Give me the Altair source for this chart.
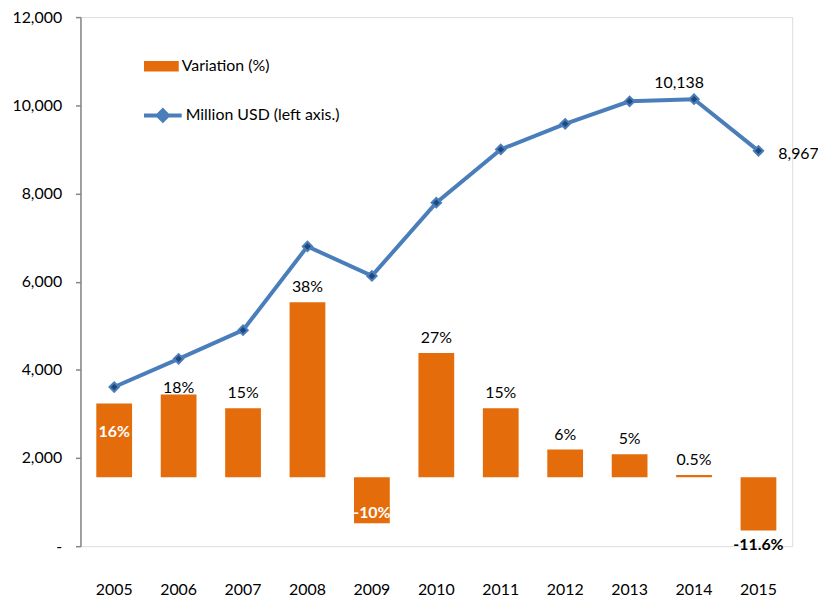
import altair as alt
import pandas as pd

years = ["2005", "2006", "2007", "2008", "2009", "2010", "2011", "2012", "2013", "2014", "2015"]
usd = [3610, 4250, 4900, 6800, 6130, 7790, 9000, 9580, 10090, 10138, 8967]
pct = [16, 18, 15, 38, -10, 27, 15, 6, 5, 0.5, -11.6]
pct_labels = ["16%", "18%", "15%", "38%", "-10%", "27%", "15%", "6%", "5%", "0.5%", "-11.6%"]
usd_labels = ["", "", "", "", "", "", "", "", "", "10,138", "8,967"]

ORANGE = "#E46C0A"
BLUE = "#4A7EBB"
DARK = "#1F497D"
FONT = "Lato"
FS = 16

df = pd.DataFrame({
    "year": years, "usd": usd, "pct": pct,
    "pct_label": pct_labels, "usd_label": usd_labels,
})
df["bar_series"] = "Variation (%)"
df["line_series"] = "Million USD (left axis.)"

base = alt.Chart(df)

x = alt.X("year:N", title=None,
          scale=alt.Scale(paddingInner=0.445, paddingOuter=0.246),
          axis=alt.Axis(domain=False, ticks=False, tickSize=0, labelPadding=36,
                        labelFontSize=FS, labelAngle=0, labelColor="#000000", labelFont=FONT))

pscale = alt.Scale(domain=[-15, 100], nice=False)
uscale = alt.Scale(domain=[0, 12000], nice=False)

bars = base.mark_bar(color=ORANGE).encode(
    x=x,
    y=alt.Y("pct:Q", scale=pscale, axis=None),
    y2=alt.Y2(datum=0),
    color=alt.Color("bar_series:N", scale=alt.Scale(range=[ORANGE]),
                    legend=alt.Legend(title=None, orient="none", legendX=64, legendY=32,
                                      symbolType="M-1,-0.3H1V0.3H-1Z", symbolSize=1225,
                                      symbolStrokeWidth=0, labelFontSize=FS, labelOffset=3,
                                      padding=0, labelFont=FONT, labelColor="#000000")),
)

def pct_text(sel, dy, color="#000000", weight="normal"):
    return base.transform_filter(
        alt.FieldOneOfPredicate(field="year", oneOf=sel)
    ).mark_text(dy=dy, fontSize=FS, font=FONT, color=color, fontWeight=weight,
                baseline="middle").encode(
        x=x,
        y=alt.Y("pct:Q", scale=pscale, axis=None),
        text="pct_label:N",
    )

t_above = pct_text(["2007", "2008", "2010", "2011", "2012", "2013", "2014"], -15)
t_2006 = pct_text(["2006"], -6)
t_2005 = pct_text(["2005"], 29, "#FFFFFF", "bold")
t_2009 = pct_text(["2009"], -10, "#FFFFFF", "bold")
t_2015 = pct_text(["2015"], 15, "#000000", "bold")

yaxis = alt.Axis(values=[0, 2000, 4000, 6000, 8000, 10000, 12000],
                 labelExpr="datum.value == 0 ? '-\u00a0\u00a0' : format(datum.value, ',')",
                 grid=False, domainColor="#868686", domainWidth=1.5,
                 tickColor="#868686", tickWidth=1.5, tickSize=5, labelPadding=14,
                 labelFontSize=FS, labelFont=FONT, labelColor="#000000", title=None)

line = base.mark_line(strokeWidth=4).encode(
    x=x,
    y=alt.Y("usd:Q", scale=uscale, axis=yaxis),
    stroke=alt.Stroke("line_series:N", scale=alt.Scale(range=[BLUE]),
                      legend=alt.Legend(title=None, orient="none", legendX=62, legendY=78,
                                        symbolType="M-1,0H1M0,-0.27L0.27,0L0,0.27L-0.27,0Z",
                                        symbolSize=1444, symbolStrokeWidth=4,
                                        symbolFillColor=DARK, labelFontSize=FS, labelOffset=2,
                                        padding=0, labelFont=FONT, labelColor="#000000")),
)

points = base.mark_point(shape="diamond", filled=True, fill=DARK, stroke=BLUE,
                         strokeWidth=2, size=90, opacity=1).encode(
    x=x,
    y=alt.Y("usd:Q", scale=uscale, axis=None),
)

u14 = base.transform_filter(alt.datum.year == "2014").mark_text(
    dx=-15, dy=-16, fontSize=FS, font=FONT, color="#000000", baseline="middle").encode(
    x=x, y=alt.Y("usd:Q", scale=uscale, axis=None), text="usd_label:N")
u15 = base.transform_filter(alt.datum.year == "2015").mark_text(
    dx=20, dy=3, align="left", fontSize=FS, font=FONT, color="#000000", baseline="middle").encode(
    x=x, y=alt.Y("usd:Q", scale=uscale, axis=None), text="usd_label:N")

chart = alt.layer(
    bars, t_above, t_2006, t_2005, t_2009, t_2015, line, points, u14, u15
).resolve_scale(
    y="independent"
).properties(
    width=717, height=533,
    autosize=alt.AutoSizeParams(type="none"),
    padding={"left": 73, "top": 7, "right": 26, "bottom": 50},
).configure_view(stroke="transparent").configure(font=FONT)

chart.save("out.html", embed_options={"renderer": "svg", "actions": False})
